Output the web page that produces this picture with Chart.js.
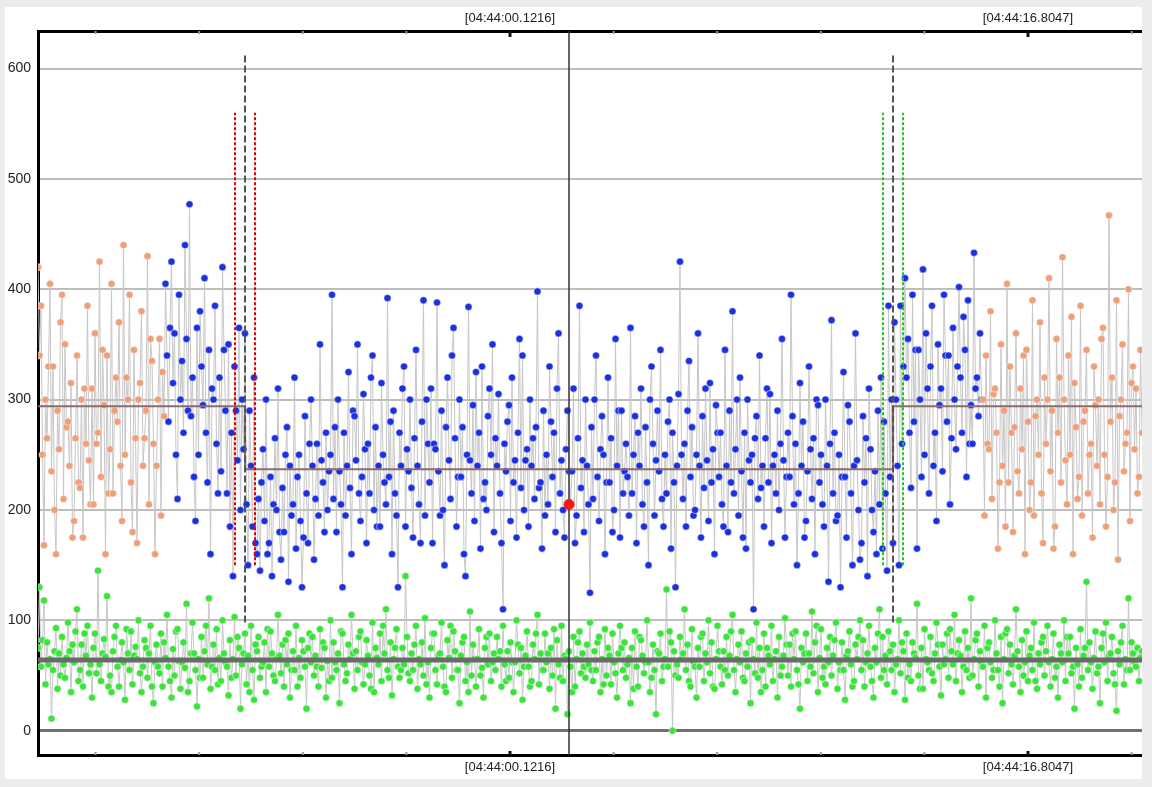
<!DOCTYPE html>
<html>
<head>
<meta charset="utf-8">
<script src="https://cdn.jsdelivr.net/npm/chart.js@4.4.1/dist/chart.umd.min.js"></script>
<style>
  html, body { margin: 0; padding: 0; background: #ececec; }
  #panel { position: absolute; left: 5px; top: 7px; width: 1137px; height: 772px; background: #fff; }
</style>
</head>
<body>
<div id="panel"><canvas id="chart"></canvas></div>
<script>
// time axis: seconds after 04:44:00
const viewStart = -15.08;
const viewEnd = 20.476;
const sampleStart = -15.08;
const sampleStep = 0.04831;
const majorTicks = [0.1216, 16.8047];
const minorTicks = [-13.2249, -9.8883, -6.5516, -3.2150, 3.4582, 6.7949, 10.1315, 13.4681, 20.1413];
const yTicks = [0, 100, 200, 300, 400, 500, 600];

// upper signal: orange outside the window, blue inside
const outerLeft = [
  420, 340, 385, 250, 168, 300, 265, 330, 405, 235, 330, 200, 160, 290, 255, 370, 395, 210, 350, 275,
  280, 240, 315, 175, 190, 265, 340, 225, 220, 300, 175, 310, 260, 385, 245, 205, 310, 205, 360, 260,
  270, 425, 230, 345, 295, 160, 340, 215, 255, 405, 215, 290, 320, 280, 370, 240, 190, 440, 250, 320,
  300, 395, 225, 180, 345, 265, 170, 300, 315, 380, 240, 265, 290, 430, 205, 355, 335, 260, 160, 240,
  300, 355, 195, 325, 285];
const innerRise = [
  405, 340, 280, 365, 425, 315, 360, 250, 210, 395, 300, 335, 270, 440, 355, 290, 477, 285, 320, 230,
  190, 365, 250, 380, 330, 295, 410, 270, 225, 345, 160, 310, 300, 385, 260, 215, 320, 235, 420, 345,
  290, 215, 350, 185, 270, 140, 330, 290, 245, 365, 200, 300, 255];
const innerDip = [
  360, 205, 150, 290, 240, 185, 320, 170, 160, 210, 145, 225, 255, 190, 300, 160, 170, 230, 140, 205,
  265, 200, 310, 180, 155, 220, 180, 250, 275, 135, 240, 195, 205, 320, 165, 230, 250, 190, 130, 175,
  285, 215, 170, 260, 300, 240, 155, 210, 260, 195, 350, 245, 225, 180, 270, 200, 235];
const innerFlat = [
  250, 395, 210, 275, 180, 300, 235, 205, 130, 270, 195, 240, 325, 220, 160, 290, 285, 245, 350, 215, 190, 230, 305, 255, 170, 260, 215, 320, 340, 200, 275, 185, 240,
  185, 315, 250, 225, 205, 392, 230, 280, 160, 290, 215, 195, 130, 270, 240, 310, 330, 185, 255, 235, 300, 220, 175, 265, 345, 240, 205, 170, 280, 390, 195, 300, 260,
  225, 310, 170, 260, 255, 388, 235, 195, 290, 200, 150, 275, 320, 245, 210, 340, 365, 265, 185, 230, 300, 230, 275, 160, 140, 250, 384, 245, 215, 295, 190, 325, 240,
  270, 165, 330, 210, 225, 200, 285, 310, 250, 350, 180, 265, 240, 305, 215, 170, 110, 260, 235, 280, 295, 190, 320, 225, 245, 175, 270, 355, 220, 340, 200, 245, 255,
  185, 300, 240, 265, 210, 275, 398, 220, 225, 165, 290, 195, 250, 205, 330, 280, 230, 270, 180, 310, 360, 215, 245, 200, 175, 255, 290, 235, 205, 235, 310, 170, 195,
  265, 385, 220, 245, 180, 300, 240, 205, 125, 275, 210, 300, 340, 230, 190, 255, 285, 250, 160, 225, 320, 225, 265, 180, 200, 355, 240, 290, 175, 290, 215, 235, 260,
  230, 195, 365, 215, 250, 285, 170, 270, 240, 310, 205, 185, 275, 225, 150, 300, 330, 260, 195, 245, 290, 235, 345, 210, 185, 250, 215, 280, 300, 165, 270, 225, 130,
  240, 305, 425, 250, 210, 260, 185, 290, 335, 230, 275, 195, 200, 250, 360, 240, 175, 285, 220, 310, 245, 190, 315, 225, 255, 160, 295, 270, 230, 270, 205, 185, 345,
  240, 180, 290, 225, 380, 215, 255, 300, 195, 320, 235, 175, 270, 165, 300, 245, 225, 250, 110, 265, 285, 210, 340, 220, 240, 185, 265, 310, 225, 305, 170, 240, 250,
  215, 290, 200, 260, 355, 245, 175, 230, 270, 230, 395, 285, 205, 260, 150, 215, 315, 240, 280, 175, 190, 235, 330, 255, 210, 265, 160, 300, 295, 225, 250, 205, 185,
  300, 240, 135, 260, 372, 215, 270, 190, 195, 250, 130, 230, 325, 230, 175, 295, 280, 215, 150, 240, 360, 245, 200, 155, 170, 285, 225, 265, 140, 310, 255, 200, 180, 235, 160, 290, 205];
const innerHigh = [
  320, 165, 280, 215, 145, 385, 230, 300, 170, 370, 300, 240, 150, 385, 260, 330, 410, 320, 355, 270,
  220, 395, 280, 345, 165, 345, 300, 230, 418, 250, 360, 310, 215, 330, 385, 240, 270, 190, 350, 295,
  310, 235, 395, 340, 280, 340, 205, 265, 365, 300, 255, 330, 402, 320, 270, 375, 345, 230, 390, 260,
  295, 260, 433, 310, 320, 285, 360, 300];
const outerRight = [
  300, 195, 340, 260, 255, 380, 210, 305, 310, 270, 165, 225, 350, 240, 290, 185, 405, 225, 330, 270,
  180, 275, 360, 235, 215, 310, 255, 340, 160, 345, 280, 200, 225, 390, 195, 285, 300, 250, 370, 215,
  170, 320, 260, 300, 410, 235, 290, 165, 185, 355, 270, 320, 225, 429, 300, 245, 205, 340, 250, 375,
  160, 315, 275, 210, 230, 385, 195, 280, 290, 345, 215, 250, 260, 175, 330, 295, 240, 300, 205, 355,
  365, 250, 185, 230, 467, 280, 320, 200, 225, 390, 155, 285, 300, 350, 235, 260, 270, 400, 190, 315,
  330, 255, 310, 215, 230, 345, 270];

// lower signal (green)
const lowerValues = [
  75, 130, 58, 82, 118, 42, 80, 60, 65, 11, 55, 72, 93, 38, 70, 50, 85, 60, 48, 66, 98, 72, 35, 78, 62, 90, 110, 45, 55, 78, 40, 88, 68, 95, 52, 60, 30, 75, 88, 52, 145, 60, 45, 70, 83, 67, 122, 40, 50, 35, 72, 85, 95, 58, 40, 64, 80, 62, 28, 92, 70,
  55, 90, 42, 68, 76, 65, 100, 52, 35, 58, 82, 75, 48, 70, 95, 40, 25, 62, 78, 58, 52, 88, 40, 80, 66, 105, 58, 45, 30, 74, 50, 90, 92, 63, 38, 62, 80, 57, 115, 35, 45, 70, 98, 70, 55, 22, 65, 48, 85, 48, 72, 95, 60, 120, 38, 58, 78, 55, 92, 42, 66,
  45, 100, 70, 62, 58, 32, 82, 48, 65, 103, 50, 85, 75, 20, 60, 70, 88, 42, 68, 35, 95, 55, 28, 78, 72, 85, 48, 58, 62, 80, 35, 92, 58, 90, 70, 50, 45, 65, 105, 68, 52, 78, 40, 82, 60, 88, 30, 55, 72, 55, 95, 40, 66, 48, 82, 72, 58, 20, 75, 88, 62,
  85, 50, 68, 58, 40, 92, 57, 80, 75, 30, 63, 45, 100, 48, 80, 62, 55, 70, 25, 90, 88, 60, 45, 52, 78, 65, 105, 70, 38, 72, 55, 85, 90, 62, 42, 60, 82, 68, 50, 38, 98, 35, 75, 66, 60, 88, 45, 95, 70, 110, 55, 48, 80, 32, 65, 75, 92, 58, 48, 55, 75,
  60, 140, 85, 52, 45, 70, 55, 78, 95, 38, 65, 60, 80, 50, 102, 42, 62, 30, 75, 88, 88, 55, 42, 68, 70, 98, 58, 40, 35, 82, 66, 95, 48, 90, 72, 55, 55, 25, 68, 80, 85, 45, 62, 35, 108, 50, 78, 65, 40, 65, 92, 50, 57, 30, 75, 85, 60, 88, 45, 62, 70,
  55, 85, 65, 72, 40, 95, 60, 45, 72, 48, 80, 62, 35, 62, 100, 78, 52, 75, 28, 58, 68, 90, 58, 40, 45, 78, 65, 88, 105, 42, 70, 55, 55, 88, 62, 70, 38, 75, 50, 92, 20, 82, 60, 48, 95, 45, 68, 65, 15, 72, 58, 35, 85, 40, 65, 80, 90, 52, 70, 58, 48,
  78, 60, 98, 55, 45, 72, 55, 80, 85, 35, 65, 42, 92, 50, 75, 68, 42, 88, 62, 52, 30, 70, 95, 75, 55, 80, 48, 60, 66, 25, 75, 38, 90, 58, 40, 85, 82, 68, 52, 62, 100, 62, 35, 48, 78, 55, 15, 72, 70, 88, 45, 58, 65, 128, 58, 90, 80, 0, 72, 50, 60,
  48, 85, 65, 70, 110, 55, 78, 45, 40, 92, 62, 58, 30, 75, 58, 85, 88, 45, 70, 62, 100, 52, 80, 40, 38, 65, 95, 72, 58, 42, 72, 55, 85, 50, 68, 90, 105, 55, 35, 65, 78, 62, 90, 48, 45, 70, 58, 80, 25, 82, 65, 52, 98, 48, 75, 35, 55, 88, 40, 75, 68,
  60, 95, 45, 65, 72, 30, 85, 50, 58, 68, 102, 78, 50, 78, 40, 88, 65, 90, 55, 42, 20, 75, 62, 70, 88, 45, 70, 58, 108, 52, 80, 95, 35, 66, 92, 48, 58, 42, 75, 62, 85, 50, 68, 82, 98, 38, 62, 55, 80, 55, 28, 68, 72, 90, 60, 40, 45, 78, 65, 85, 100,
  55, 82, 40, 62, 70, 95, 58, 45, 30, 75, 62, 88, 110, 48, 85, 55, 68, 42, 90, 72, 55, 78, 35, 60, 65, 100, 52, 80, 72, 28, 88, 48, 60, 45, 80, 70, 66, 115, 50, 38, 75, 38, 92, 65, 62, 55, 85, 52, 45, 70, 98, 78, 58, 32, 78, 60, 65, 88, 48, 92, 72,
  60, 105, 45, 70, 82, 68, 35, 58, 90, 55, 75, 48, 120, 50, 65, 82, 88, 40, 72, 62, 58, 95, 30, 75, 80, 62, 48, 55, 100, 70, 55, 40, 85, 25, 65, 88, 92, 52, 78, 60, 42, 68, 110, 72, 58, 35, 82, 50, 62, 90, 45, 68, 75, 55, 98, 45, 38, 70, 60, 80, 85,
  50, 72, 95, 62, 40, 65, 88, 48, 58, 30, 78, 70, 62, 100, 45, 85, 70, 85, 52, 58, 20, 75, 60, 40, 92, 48, 68, 75, 135, 55, 80, 62, 38, 66, 90, 52, 58, 25, 75, 88, 62, 98, 45, 68, 70, 85, 52, 42, 18, 72, 60, 80, 95, 42, 65, 55, 120, 55, 80, 70, 62, 58, 75, 45, 66, 72];

// markers
const boundaryTimes = [-8.413, 12.457];
const redWindow = [-8.735, -8.091];
const greenWindow = [12.135, 12.779];
const cursorTime = 2.022;
const cursorValue = 205;
const meanLevels = [294, 237, 294];
const lowerMean = 64;

const orange = '#eda07c';
const blue = '#1c30e0';
const green = '#3ee23e';

const innerValues = innerRise.concat(innerDip, innerFlat, innerHigh);
const upperValues = outerLeft.concat(innerValues, outerRight);
const upperColors = upperValues.map((v, i) =>
  (i < outerLeft.length || i >= outerLeft.length + innerValues.length) ? orange : blue);
const toPoints = arr => arr.map((y, i) => ({ x: sampleStart + i * sampleStep, y }));

function clock(v) {
  return '[04:44:' + v.toFixed(4).padStart(7, '0') + ']';
}

const tickValues = minorTicks.concat(majorTicks).sort((a, b) => a - b);

function vline(t, y0, y1, color, width, dash, order) {
  return {
    type: 'line', data: [{ x: t, y: y0 }, { x: t, y: y1 }],
    borderColor: color, borderWidth: width, borderDash: dash,
    pointRadius: 0, order
  };
}

// inward tick marks and the two time labels on top and bottom
const timeAxisDecor = {
  id: 'timeAxisDecor',
  afterDraw(chart) {
    const { ctx, chartArea: a, scales: { x } } = chart;
    ctx.save();
    tickValues.forEach(v => {
      const px = x.getPixelForValue(v);
      const major = majorTicks.includes(v);
      ctx.strokeStyle = major ? '#111' : '#999';
      ctx.lineWidth = major ? 3 : 2;
      ctx.beginPath();
      ctx.moveTo(px, a.top);
      ctx.lineTo(px, a.top + (major ? 6 : 3));
      ctx.moveTo(px, a.bottom);
      ctx.lineTo(px, a.bottom - (major ? 4 : 3));
      ctx.stroke();
    });
    ctx.fillStyle = '#222';
    ctx.font = '13px "Liberation Sans", Arial, sans-serif';
    ctx.textAlign = 'center';
    ctx.textBaseline = 'middle';
    majorTicks.forEach(v => {
      const px = x.getPixelForValue(v);
      ctx.fillText(clock(v), px, a.top - 13);
      ctx.fillText(clock(v), px, a.bottom + 12);
    });
    ctx.restore();
  }
};

const timeAxis = (pos, fitHeight) => ({
  type: 'linear', position: pos, min: viewStart, max: viewEnd,
  afterBuildTicks: s => { s.ticks = tickValues.map(v => ({ value: v })); },
  afterFit: s => { s.height = fitHeight; },
  ticks: { display: false },
  grid: { display: false, drawTicks: false },
  border: { display: true, color: '#000', width: 3 }
});

new Chart(document.getElementById('chart').getContext('2d'), {
  type: 'line',
  data: {
    datasets: [
      {
        data: toPoints(upperValues), borderColor: '#c6c6c6', borderWidth: 1,
        pointBackgroundColor: upperColors, pointBorderColor: '#ffffff', pointBorderWidth: 0.5,
        pointRadius: 3.6, order: 10
      },
      {
        data: toPoints(lowerValues), borderColor: '#c6c6c6', borderWidth: 1,
        pointBackgroundColor: green, pointBorderColor: '#ffffff', pointBorderWidth: 0.5,
        pointRadius: 3.6, order: 11
      },
      {
        data: [
          { x: viewStart, y: meanLevels[0] }, { x: boundaryTimes[0], y: meanLevels[0] },
          { x: boundaryTimes[0], y: meanLevels[1] }, { x: boundaryTimes[1], y: meanLevels[1] },
          { x: boundaryTimes[1], y: meanLevels[2] }, { x: viewEnd, y: meanLevels[2] }
        ],
        borderColor: '#8c6c6c', borderWidth: 2, pointRadius: 0, order: 5
      },
      {
        data: [{ x: viewStart, y: lowerMean }, { x: viewEnd, y: lowerMean }],
        borderColor: '#6a6a6a', borderWidth: 5, pointRadius: 0, order: 5
      },
      vline(boundaryTimes[0], 98, 613, '#555', 2, [7, 3], 3),
      vline(boundaryTimes[1], 98, 613, '#555', 2, [7, 3], 3),
      vline(redWindow[0], 150, 560, '#e00000', 2, [3, 2], 3),
      vline(redWindow[1], 150, 560, '#e00000', 2, [3, 2], 3),
      vline(greenWindow[0], 150, 560, '#22c422', 2, [3, 2], 3),
      vline(greenWindow[1], 150, 560, '#22c422', 2, [3, 2], 3),
      vline(cursorTime, -22, 634, '#333', 1.5, [], 2),
      {
        data: [{ x: cursorTime, y: cursorValue }], showLine: false,
        pointBackgroundColor: '#ff1414', pointBorderColor: '#ff1414', pointRadius: 5, order: 1
      }
    ]
  },
  options: {
    responsive: true,
    maintainAspectRatio: false,
    animation: false,
    layout: { padding: 0, autoPadding: false },
    plugins: { legend: { display: false }, tooltip: { enabled: false } },
    scales: {
      x: timeAxis('bottom', 24),
      x2: timeAxis('top', 24),
      y: {
        min: -22, max: 634, position: 'left',
        afterBuildTicks: s => { s.ticks = yTicks.map(v => ({ value: v })); },
        afterFit: s => { s.width = 33; },
        ticks: { color: '#222', padding: 7, font: { family: 'Liberation Sans, Arial, sans-serif', size: 14 } },
        grid: {
          drawTicks: false,
          color: c => (c.tick && c.tick.value === 0) ? '#6f6f6f' : '#bdbdbd',
          lineWidth: c => (c.tick && c.tick.value === 0) ? 3 : 2
        },
        border: { display: true, color: '#000', width: 3 }
      }
    }
  },
  plugins: [timeAxisDecor]
});
</script>
</body>
</html>
